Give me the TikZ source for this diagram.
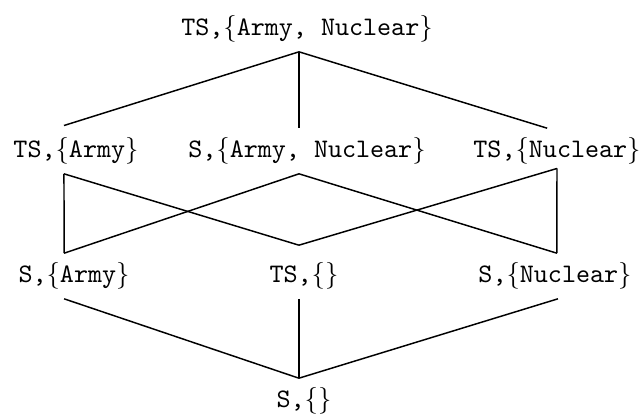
\documentclass[tikz,border=0pt]{standalone}
\tikzset{level node/.style={font=\ttfamily, inner sep=0.333em},
         order edge/.style={draw, line width=0.55pt}}

\begin{document}
\begin{tikzpicture}[x=0.374pt,y=-0.374pt]
\useasboundingbox (0,0) rectangle (643,415);
% levels of the lattice
\node[level node] (tsan) at (307,29)  {TS,$\{$Army, Nuclear$\}$};
\node[level node] (tsa)  at (76,151)  {TS,$\{$Army$\}$};
\node[level node] (san)  at (307,151) {S,$\{$Army, Nuclear$\}$};
\node[level node] (tsn)  at (557,151) {TS,$\{$Nuclear$\}$};
\node[level node] (sa)   at (74,276)  {S,$\{$Army$\}$};
\node[level node] (ts)   at (304,276) {TS,$\{\}$};
\node[level node] (sn)   at (555,276) {S,$\{$Nuclear$\}$};
\node[level node] (s)    at (304,401) {S,$\{\}$};
% top
\draw[order edge] ([xshift=-3pt]tsan.south) -- ([xshift=-4.5pt,yshift=1pt]tsa.north);
\draw[order edge] ([xshift=-3pt]tsan.south) -- ([xshift=-3pt]san.north);
\draw[order edge] ([xshift=-3pt]tsan.south) -- ([xshift=-3.7pt]tsn.north);
% middle
\draw[order edge] ([xshift=-4.5pt]tsa.south) -- ([xshift=-3.7pt]sa.north);
\draw[order edge] ([xshift=-4.5pt]tsa.south) -- ([xshift=-1.9pt,yshift=3pt]ts.north);
\draw[order edge] ([xshift=-3pt]san.south) -- ([xshift=-3.7pt]sa.north);
\draw[order edge] ([xshift=-3pt]san.south) -- ([xshift=0.7pt]sn.north);
\draw[order edge] ([yshift=2pt]tsn.south) -- ([xshift=-1.9pt,yshift=3pt]ts.north);
\draw[order edge] ([yshift=2pt]tsn.south) -- ([xshift=0.7pt]sn.north);
% bottom
\draw[order edge] ([xshift=-3.7pt]sa.south) -- ([xshift=-1.9pt]s.north);
\draw[order edge] ([xshift=-1.9pt]ts.south) -- ([xshift=-1.9pt]s.north);
\draw[order edge] ([xshift=1.1pt]sn.south) -- ([xshift=-1.9pt]s.north);
\end{tikzpicture}
\end{document}
